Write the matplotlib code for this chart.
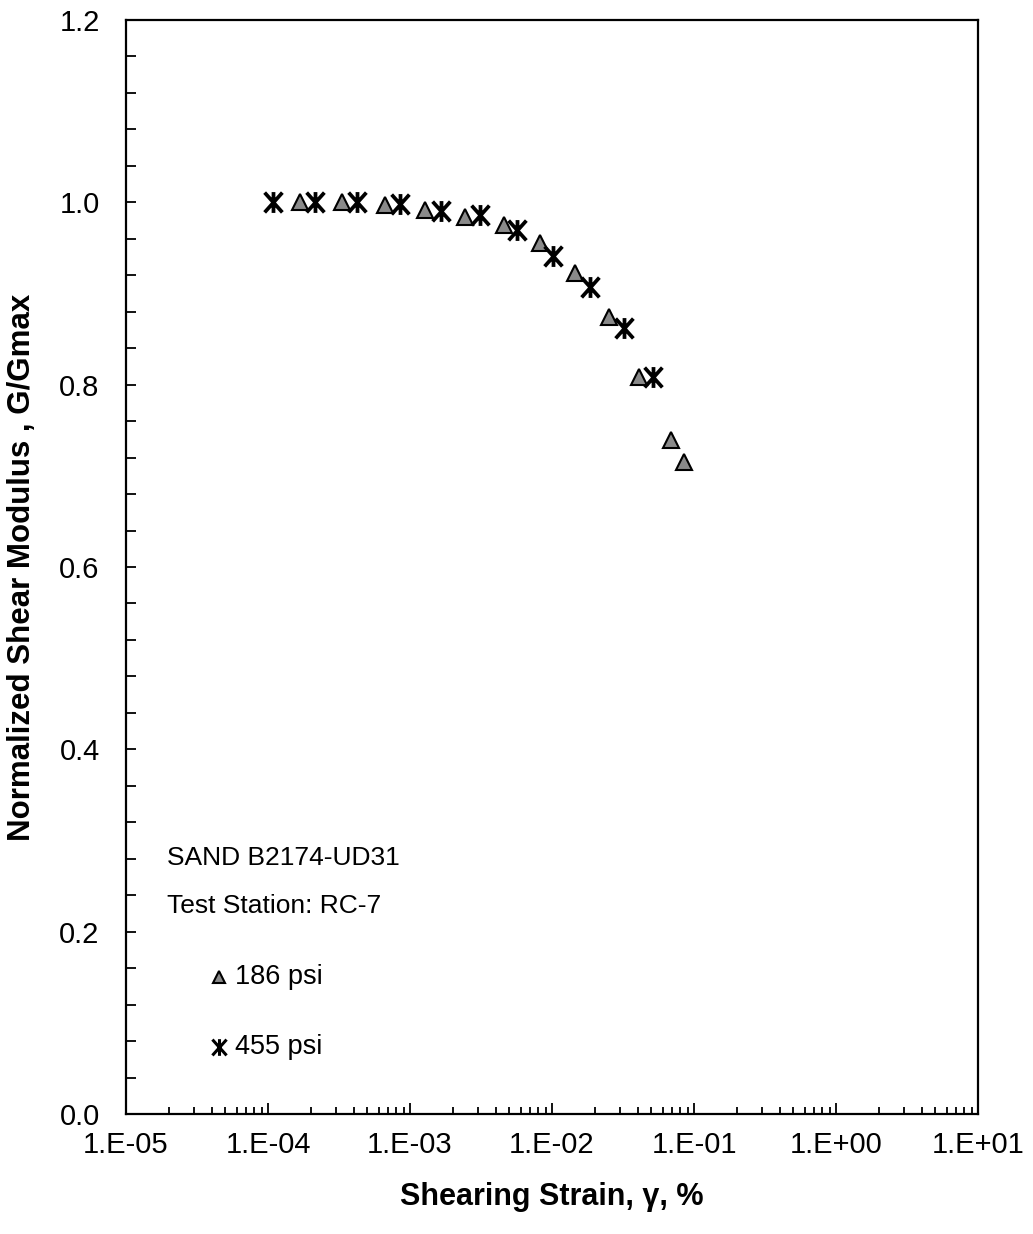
import numpy as np
import matplotlib.pyplot as plt
from matplotlib.path import Path
from matplotlib.ticker import LogLocator, MultipleLocator, FixedFormatter, FixedLocator

plt.rcParams['font.family'] = ['Liberation Sans', 'DejaVu Sans']

# 186 psi confining pressure
strain_186 = [1.68e-4, 3.32e-4, 6.67e-4, 1.28e-3, 2.44e-3, 4.6e-3,
              8.2e-3, 1.45e-2, 2.52e-2, 4.1e-2, 6.9e-2, 8.5e-2]
ggmax_186 = [1.000, 1.000, 0.997, 0.992, 0.984, 0.975,
             0.955, 0.922, 0.874, 0.808, 0.739, 0.715]

# 455 psi confining pressure
strain_455 = [1.08e-4, 2.14e-4, 4.2e-4, 8.5e-4, 1.65e-3, 3.1e-3,
              5.7e-3, 1.02e-2, 1.85e-2, 3.2e-2, 5.1e-2]
ggmax_455 = [1.000, 1.000, 1.000, 0.998, 0.991, 0.986,
             0.970, 0.941, 0.907, 0.862, 0.808]

x_ticks = [1e-5, 1e-4, 1e-3, 1e-2, 1e-1, 1e0, 1e1]
x_ticklabels = ['1.E-05', '1.E-04', '1.E-03', '1.E-02', '1.E-01', '1.E+00', '1.E+01']

# six-armed asterisk: vertical stroke plus an X
ast = Path([(0, -1), (0, 1), (-0.85, -0.95), (0.85, 0.95), (-0.85, 0.95), (0.85, -0.95)],
           [Path.MOVETO, Path.LINETO, Path.MOVETO, Path.LINETO, Path.MOVETO, Path.LINETO])

fig = plt.figure(figsize=(10.33, 12.34), dpi=100)
ax = fig.add_axes([0.122, 0.0972, 0.8248, 0.8866])

tri_style = dict(ls='none', marker='^', ms=12, mfc='#8a8a8a', mec='black', mew=1.5)
ast_style = dict(ls='none', marker=ast, ms=15, mfc='none', mec='black', mew=2.7)

ax.plot(strain_186, ggmax_186, **tri_style)
ax.plot(strain_455, ggmax_455, **ast_style)

ax.set_xscale('log')
ax.set_xlim(1e-5, 1e1)
ax.set_ylim(0, 1.2)

ax.xaxis.set_major_locator(FixedLocator(x_ticks))
ax.xaxis.set_major_formatter(FixedFormatter(x_ticklabels))
ax.xaxis.set_minor_locator(LogLocator(base=10, subs=np.arange(2, 10)))
ax.xaxis.set_minor_formatter(plt.NullFormatter())
ax.yaxis.set_major_locator(MultipleLocator(0.2))
ax.yaxis.set_minor_locator(MultipleLocator(0.04))
ax.yaxis.set_major_formatter(plt.FormatStrFormatter('%.1f'))

ax.tick_params(axis='both', which='both', direction='in', top=False, right=False,
               width=1.3, colors='black', labelsize=21)
ax.tick_params(axis='x', which='major', length=8, pad=12)
ax.tick_params(axis='x', which='minor', length=5)
ax.tick_params(axis='y', which='both', length=7, pad=19)

for s in ax.spines.values():
    s.set_linewidth(1.6)

ax.set_xlabel('Shearing Strain, γ, %', fontsize=22, fontweight='bold', labelpad=17)
ax.set_ylabel('Normalized Shear Modulus , G/Gmax', fontsize=22.5, fontweight='bold', labelpad=16)

# sample notes and legend
ax.text(0.048, 0.234, 'SAND B2174-UD31', transform=ax.transAxes, fontsize=19, va='center')
ax.text(0.048, 0.190, 'Test Station: RC-7', transform=ax.transAxes, fontsize=19, va='center')
ax.plot([0.109], [0.125], transform=ax.transAxes, **dict(tri_style, ms=9))
ax.text(0.128, 0.125, '186 psi', transform=ax.transAxes, fontsize=19.5, va='center')
ax.plot([0.109], [0.061], transform=ax.transAxes, **dict(ast_style, ms=12, mew=2.2))
ax.text(0.128, 0.061, '455 psi', transform=ax.transAxes, fontsize=19.5, va='center')

fig.savefig('out.png', dpi=100)
